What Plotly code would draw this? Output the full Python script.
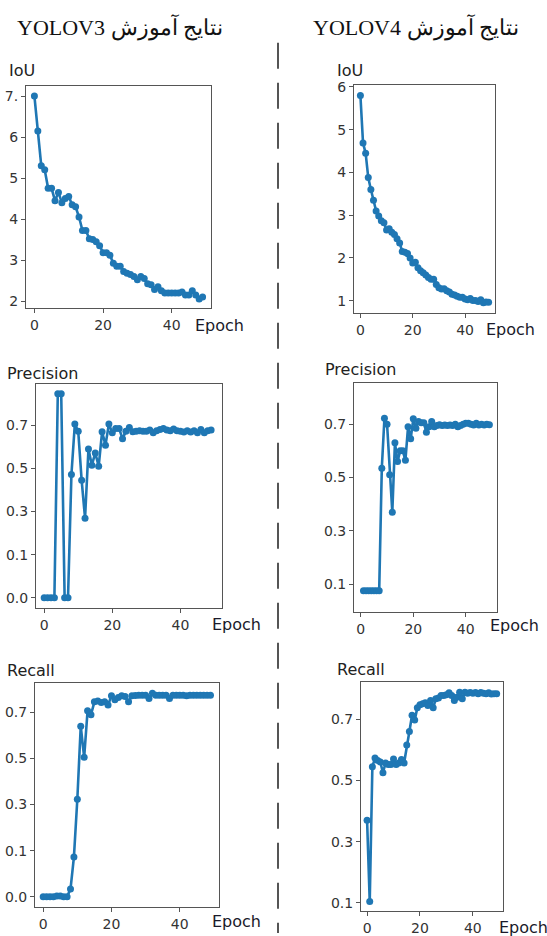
import plotly.graph_objects as go

W, H = 547, 936

epochs = list(range(50))
epochs_v4_prec = list(range(1, 50))

iou_v3 = [7.0, 6.15, 5.3, 5.2, 4.75, 4.75, 4.45, 4.65, 4.4, 4.5,
          4.55, 4.35, 4.3, 4.05, 3.72, 3.72, 3.52, 3.5, 3.45, 3.35,
          3.18, 3.18, 3.12, 2.92, 2.85, 2.85, 2.72, 2.68, 2.65, 2.6,
          2.52, 2.6, 2.55, 2.42, 2.4, 2.28, 2.35, 2.25, 2.2, 2.2,
          2.2, 2.2, 2.2, 2.22, 2.15, 2.15, 2.25, 2.15, 2.05, 2.1]

iou_v4 = [5.8, 4.69, 4.45, 3.88, 3.6, 3.35, 3.1, 2.98, 2.87, 2.82,
          2.65, 2.68, 2.6, 2.55, 2.45, 2.35, 2.15, 2.13, 2.1, 2.0,
          1.88, 1.9, 1.77, 1.7, 1.65, 1.6, 1.54, 1.5, 1.5, 1.38,
          1.3, 1.27, 1.28, 1.23, 1.2, 1.15, 1.13, 1.1, 1.08, 1.08,
          1.04, 1.02, 1.05, 1.0, 1.0, 0.98, 1.02, 0.95, 0.97, 0.96]

prec_v3 = [0.0, 0.0, 0.0, 0.0, 0.946, 0.946, 0.0, 0.0, 0.572, 0.806,
           0.772, 0.545, 0.369, 0.69, 0.615, 0.672, 0.61, 0.77, 0.708, 0.806,
           0.765, 0.785, 0.785, 0.738, 0.772, 0.79, 0.77, 0.772, 0.775, 0.772,
           0.772, 0.778, 0.765, 0.775, 0.78, 0.785, 0.778, 0.775, 0.783, 0.775,
           0.772, 0.769, 0.775, 0.769, 0.775, 0.766, 0.78, 0.765, 0.775, 0.778]

prec_v4 = [0.075, 0.075, 0.075, 0.075, 0.075, 0.075, 0.075, 0.535, 0.722, 0.70,
           0.51, 0.37, 0.63, 0.56, 0.60, 0.60, 0.565, 0.69, 0.645, 0.72,
           0.685, 0.71, 0.705, 0.705, 0.67, 0.69, 0.71, 0.69, 0.695, 0.698,
           0.695, 0.697, 0.695, 0.697, 0.695, 0.70, 0.69, 0.695, 0.70, 0.703,
           0.703, 0.70, 0.697, 0.703, 0.697, 0.70, 0.697, 0.70, 0.698]

rec_v3 = [0.0, 0.0, 0.0, 0.0, 0.003, 0.003, 0.0, 0.0, 0.033, 0.172,
          0.423, 0.74, 0.605, 0.807, 0.79, 0.846, 0.85, 0.843, 0.846, 0.832,
          0.872, 0.855, 0.865, 0.872, 0.869, 0.846, 0.872, 0.874, 0.875, 0.875,
          0.875, 0.86, 0.883, 0.875, 0.875, 0.875, 0.875, 0.86, 0.875, 0.875,
          0.875, 0.875, 0.872, 0.875, 0.875, 0.875, 0.875, 0.875, 0.875, 0.875]

rec_v4 = [0.37, 0.105, 0.545, 0.573, 0.565, 0.56, 0.525, 0.557, 0.552, 0.552,
          0.57, 0.552, 0.557, 0.568, 0.557, 0.616, 0.66, 0.713, 0.697, 0.737,
          0.747, 0.75, 0.754, 0.745, 0.761, 0.737, 0.767, 0.769, 0.777, 0.777,
          0.78, 0.786, 0.777, 0.761, 0.772, 0.788, 0.767, 0.788, 0.785, 0.787,
          0.785, 0.787, 0.783, 0.787, 0.785, 0.783, 0.786, 0.782, 0.783, 0.783]

x_ticks = [0, 20, 40]
iou_v3_ticks = [2, 3, 4, 5, 6, 7]
iou_v3_text = ["2", "3", "4", "5", "6", "7."]
iou_v4_ticks = [1, 2, 3, 4, 5, 6]
v3_frac_ticks = [0.0, 0.2, 0.4, 0.6, 0.8]
v3_frac_text = ["0.0", "0.1", "0.3", "0.5", "0.7"]
v4_frac_ticks = [0.1, 0.3, 0.5, 0.7]
v4_frac_text = ["0.1", "0.3", "0.5", "0.7"]

titles = ["YOLOV3 نتایج آموزش", "YOLOV4 نتایج آموزش"]
ylabels = ["IoU", "Precision", "Recall"]

BLUE = "#1f77b4"
TICKFONT = dict(family="DejaVu Sans", size=14, color="#333333")

def px_x(a, b):
    return [a / W, b / W]

def px_y(top, bottom):
    return [1 - bottom / H, 1 - top / H]

panels = [
    (epochs, iou_v3, (26, 211), (81, 305), [-2.45, 51.45], [1.83, 7.24], iou_v3_ticks, iou_v3_text),
    (epochs, iou_v4, (354, 495), (80, 310), [-2.45, 51.45], [0.71, 6.04], iou_v4_ticks, [str(t) for t in iou_v4_ticks]),
    (epochs, prec_v3, (36, 222), (382, 608), [-2.4, 52.2], [-0.048, 0.99], v3_frac_ticks, v3_frac_text),
    (epochs_v4_prec, prec_v4, (354, 497), (381, 612), [-2.6, 51.9], [-0.005, 0.853], v4_frac_ticks, v4_frac_text),
    (epochs, rec_v3, (35, 219), (684, 910), [-2.4, 51.5], [-0.046, 0.926], v3_frac_ticks, v3_frac_text),
    (epochs, rec_v4, (361, 503), (683, 914), [-2.3, 51.4], [0.073, 0.82], v4_frac_ticks, v4_frac_text),
]

fig = go.Figure()
layout = dict(
    width=W, height=H,
    margin=dict(l=0, r=0, t=0, b=0),
    paper_bgcolor="white", plot_bgcolor="white",
    showlegend=False,
)

for i, (xs, ys, dx, dy, xr, yr, yt, ytt) in enumerate(panels):
    n = i + 1
    xa = "x" if n == 1 else f"x{n}"
    ya = "y" if n == 1 else f"y{n}"
    fig.add_trace(go.Scatter(
        x=xs, y=ys, mode="lines+markers", xaxis=xa, yaxis=ya,
        line=dict(color=BLUE, width=2.6),
        marker=dict(color=BLUE, size=7),
        cliponaxis=True,
    ))
    common = dict(showline=True, mirror=True, linecolor="#555555", linewidth=1,
                  ticks="outside", ticklen=4, tickcolor="#555555",
                  showgrid=False, zeroline=False, tickfont=TICKFONT)
    layout["xaxis" if n == 1 else f"xaxis{n}"] = dict(
        domain=px_x(*dx), range=xr, anchor=ya, tickvals=x_ticks, **common)
    layout["yaxis" if n == 1 else f"yaxis{n}"] = dict(
        domain=px_y(*dy), range=yr, anchor=xa, tickvals=yt, ticktext=ytt, **common)

fig.update_layout(**layout)

ann = []
for txt, cx in zip(titles, [120, 416]):
    ann.append(dict(text=txt, x=cx / W, y=1 - 22 / H, xref="paper", yref="paper",
                    xanchor="center", yanchor="middle", showarrow=False,
                    font=dict(family="Liberation Serif, DejaVu Serif", size=22, color="#111111")))

ylab_pos = [(7, 65, 0), (335, 65, 0), (5, 371, 1), (323, 367, 1), (5, 671, 2), (335, 670, 2)]
for x0, yc, k in ylab_pos:
    ann.append(dict(text=ylabels[k], x=x0 / W, y=1 - yc / H, xref="paper", yref="paper",
                    xanchor="left", yanchor="middle", showarrow=False,
                    font=dict(family="DejaVu Sans", size=16, color="#222222")))

ep_pos = [(193, 323), (484, 327), (210, 625), (488, 626), (210, 924), (497, 930)]
for x0, yc in ep_pos:
    ann.append(dict(text="Epoch", x=x0 / W, y=1 - yc / H, xref="paper", yref="paper",
                    xanchor="left", yanchor="middle", showarrow=False,
                    font=dict(family="DejaVu Sans", size=16, color="#1a1a2a")))

fig.update_layout(annotations=ann)

fig.add_shape(type="line", xref="paper", yref="paper",
              x0=278 / W, x1=278 / W, y0=1 - 37 / H, y1=0,
              line=dict(color="#555555", width=2, dash="26px,14px"))

fig.write_html("out.html",
               config={"displayModeBar": False},
               post_script="document.body.style.margin='0';document.body.style.overflow='hidden';")
